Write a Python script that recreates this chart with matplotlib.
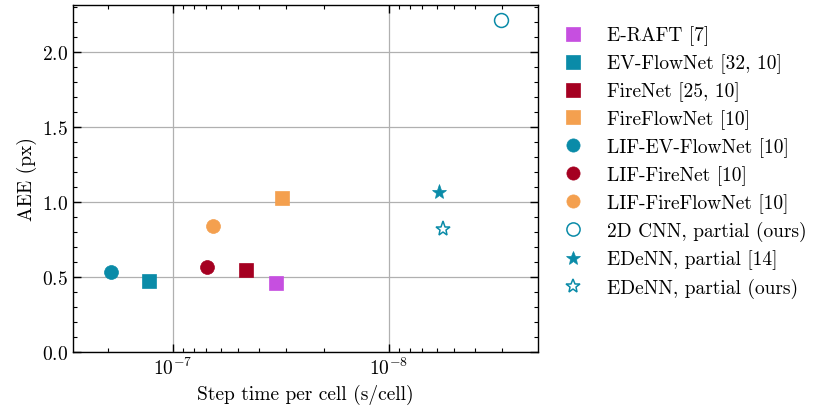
import matplotlib
matplotlib.use("Agg")
import matplotlib.pyplot as plt
from matplotlib.ticker import MultipleLocator, LogLocator, NullFormatter

plt.rcParams['font.family'] = ['cmr10', 'DejaVu Serif']
plt.rcParams['mathtext.fontset'] = 'cm'
plt.rcParams['axes.formatter.use_mathtext'] = True

labels = ["E-RAFT [7]", "EV-FlowNet [32, 10]", "FireNet [25, 10]", "FireFlowNet [10]",
          "LIF-EV-FlowNet [10]", "LIF-FireNet [10]", "LIF-FireFlowNet [10]",
          "2D CNN, partial (ours)", "EDeNN, partial [14]", "EDeNN, partial (ours)"]
step_time = [3.34e-8, 1.29e-7, 4.59e-8, 3.13e-8, 1.94e-7, 6.96e-8, 6.54e-8, 3.04e-9, 5.85e-9, 5.62e-9]
aee = [0.462, 0.471, 0.547, 1.027, 0.535, 0.569, 0.842, 2.213, 1.065, 0.82]

magenta = "#C64FE0"
teal = "#0A8BA8"
red = "#A50021"
orange = "#F4A04F"
styles = [
    dict(marker="s", color=magenta, mfc=magenta),
    dict(marker="s", color=teal, mfc=teal),
    dict(marker="s", color=red, mfc=red),
    dict(marker="s", color=orange, mfc=orange),
    dict(marker="o", color=teal, mfc=teal),
    dict(marker="o", color=red, mfc=red),
    dict(marker="o", color=orange, mfc=orange),
    dict(marker="o", color=teal, mfc="none"),
    dict(marker="*", color=teal, mfc=teal),
    dict(marker="*", color=teal, mfc="none"),
]

fig = plt.figure(figsize=(8.16, 4.10), dpi=100)
ax = fig.add_axes([73/816, 57/410, 465/816, 347/410])
for lab, x, y, st in zip(labels, step_time, aee, styles):
    ms = 11 if st["marker"] == "*" else 10
    ax.plot([x], [y], linestyle="none", marker=st["marker"], color=st["color"],
            mfc=st["mfc"], mec=st["color"], ms=ms, mew=1.1 if st["mfc"] == "none" else 0.5,
            label=lab)

ax.set_xscale("log")
ax.set_xlim(2.9e-7, 2.04e-9)
ax.set_ylim(0, 2.313)
ax.yaxis.set_major_locator(MultipleLocator(0.5))
ax.yaxis.set_minor_locator(MultipleLocator(0.1))
ax.xaxis.set_major_locator(LogLocator(base=10, numticks=10))
ax.xaxis.set_minor_locator(LogLocator(base=10, subs=range(2, 10), numticks=20))
ax.xaxis.set_minor_formatter(NullFormatter())
ax.grid(True, which="major", color="#b0b0b0", linewidth=0.9)
ax.set_axisbelow(True)
ax.tick_params(which="both", direction="in", top=True, right=True, labelsize=14)
ax.tick_params(which="major", length=6, width=1.0)
ax.tick_params(which="minor", length=3, width=0.8)
for s in ax.spines.values():
    s.set_linewidth(1.0)
ax.set_xlabel("Step time per cell (s/cell)", fontsize=14)
ax.set_ylabel("AEE (px)", fontsize=14)
ax.legend(loc="upper left", bbox_to_anchor=(1.005, 0.98), frameon=False, fontsize=14,
          handletextpad=0.75, labelspacing=0.42, borderaxespad=0.3, markerscale=0.95)

fig.savefig("out.png", dpi=100)
